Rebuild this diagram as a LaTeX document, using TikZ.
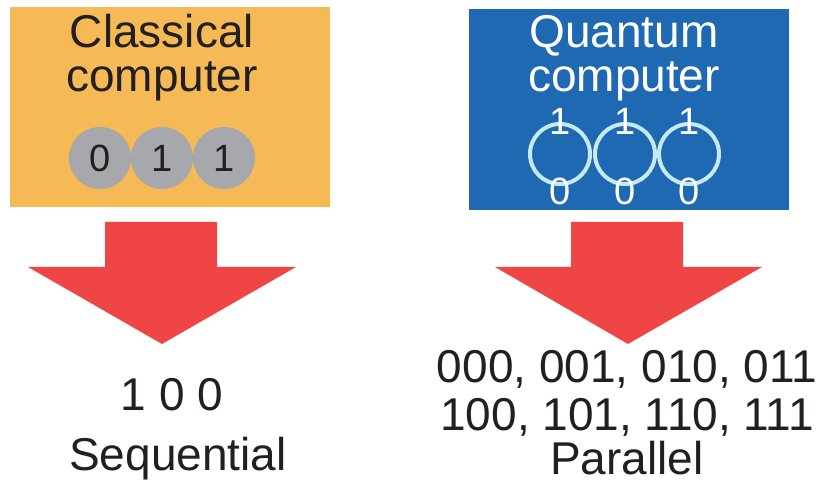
\documentclass[tikz,border=0pt]{standalone}
\usepackage{fontspec}
\setmainfont{Liberation Sans}
\usepackage{tikz}

\definecolor{boxorange}{HTML}{F5B955}
\definecolor{boxblue}{HTML}{1F69B3}
\definecolor{bitgray}{HTML}{A7A8AB}
\definecolor{qbitline}{HTML}{C6E9F2}
\definecolor{arrowred}{HTML}{EF4545}
\definecolor{inkblack}{HTML}{231F20}

\tikzset{
  big/.style={anchor=base,inner sep=0pt,text=inkblack,font=\fontsize{46}{48}\selectfont},
  bit/.style={circle,fill=bitgray,minimum size=62pt,inner sep=0pt,text=inkblack,font=\fontsize{38}{40}\selectfont},
  qbit/.style={circle,draw=qbitline,line width=4pt,minimum size=60pt,inner sep=0pt},
  qlabel/.style={anchor=base,inner sep=0pt,text=white,font=\fontsize{38}{40}\selectfont},
}

\begin{document}
\begin{tikzpicture}[x=1pt,y=-1pt]
  \useasboundingbox (0,0) rectangle (823,489);

  % boxes
  \fill[boxorange] (10,7) rectangle (330,207);
  \fill[boxblue] (469,9) rectangle (789,210);

  \node[big] (cl1) at (162,48) {Classical};
  \node[big] (cl2) at (162,92) {computer};
  \node[big,text=white] (qu1) at (624,48) {Quantum};
  \node[big,text=white] (qu2) at (624,92) {computer};

  % classical bits
  \node[bit] (b1) at (100,158) {0};
  \node[bit] (b2) at (162,158) {1};
  \node[bit] (b3) at (224,158) {1};

  % qubits
  \foreach \i/\x in {1/560,2/625,3/689} {
    \node[qbit] (q\i) at (\x,154) {};
    \node[qlabel] (q\i-one) at ([yshift=-13pt]q\i.north) {1};
    \node[qlabel] (q\i-zero) at ([yshift=-19pt]q\i.south) {0};
  }

  % arrows
  \fill[arrowred] (105,222) -- (217,222) -- (217,267) -- (296,267) -- (162,344)
    -- (28,267) -- (105,267) -- cycle;
  \fill[arrowred] (571,222) -- (683,222) -- (683,267) -- (762,267) -- (628,344)
    -- (495,267) -- (571,267) -- cycle;

  % results
  \node[big] (res1) at (172,410) {1 0 0};
  \node[big] (seq) at (178,470) {Sequential};
  \node[big] (res2a) at (627,383) {000, 001, 010, 011};
  \node[big] (res2b) at (627,431) {100, 101, 110, 111};
  \node[big] (par) at (627,475) {Parallel};
\end{tikzpicture}
\end{document}
